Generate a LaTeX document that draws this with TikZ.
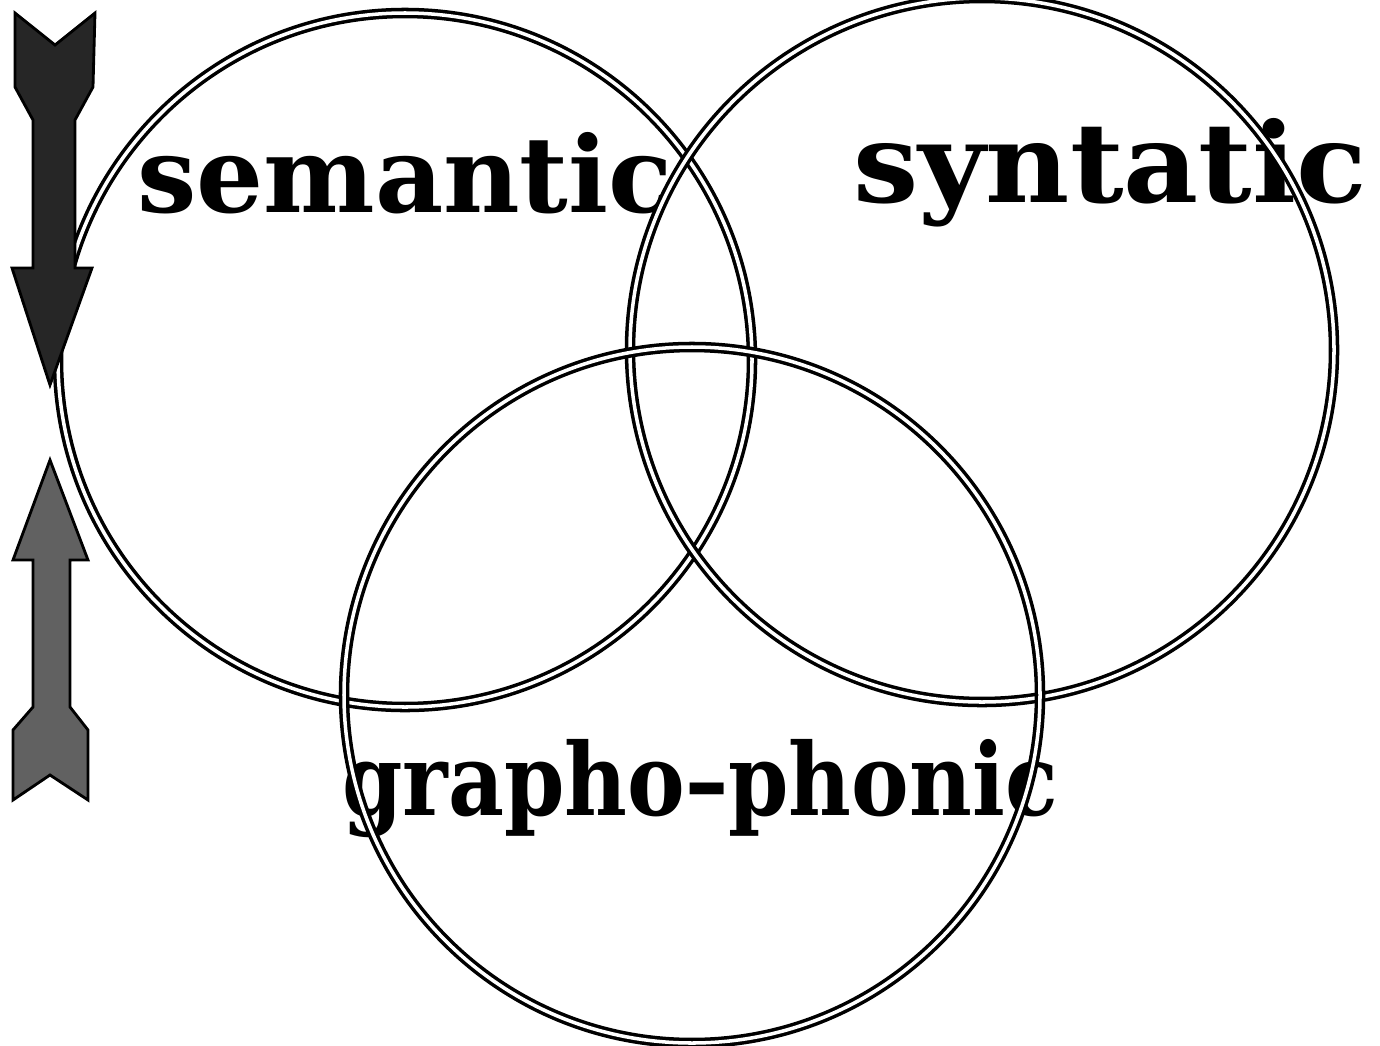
\documentclass[tikz,border=0pt]{standalone}
\usepackage{graphicx}
\usepackage{fontspec}
\setmainfont{DejaVu Serif}
\begin{document}
\begin{tikzpicture}[
    ring/.style={draw=black,line width=1.0pt,double=white,double distance=1pt},
    cue/.style={font=\bfseries\fontsize{30}{32}\selectfont,inner sep=0pt,anchor=base},
    downarrow/.style={draw=black,line width=0.8pt,fill=black!85,line join=miter},
    uparrow/.style={draw=black,line width=0.8pt,fill=black!62,line join=miter}]
%
\useasboundingbox (0,0) rectangle (13.8,-10.45);
%
% ============ Beschriftungen ============
\node[cue] (semantic) at (4.05,-2.12) {semantic};
\node[cue] (syntatic) at (11.10,-2.02) {\scalebox{1.1}[1.05]{syntatic}};
\node[cue] (grapho) at (7.00,-8.15) {\scalebox{0.82}[0.95]{grapho–phonic}};
%
% ============ Drei Kreise ============
\coordinate (csem) at (4.05,-3.60);
\coordinate (csyn) at (9.82,-3.50);
\coordinate (cgra) at (6.92,-6.95);
\draw[ring] (csem) circle (3.47);
\draw[ring] (csyn) circle (3.52);
\draw[ring] (cgra) circle (3.48);
%
% ============ Pfeil nach unten ============
\draw[downarrow] (0.15,-0.13) -- (0.55,-0.45) -- (0.95,-0.13) -- (0.93,-0.87)
  -- (0.75,-1.20) -- (0.75,-2.68) -- (0.92,-2.68) -- (0.50,-3.85)
  -- (0.12,-2.68) -- (0.33,-2.68) -- (0.33,-1.20) -- (0.15,-0.87) -- cycle;
%
% ============ Pfeil nach oben ============
\draw[uparrow] (0.50,-4.60) -- (0.88,-5.60) -- (0.70,-5.60) -- (0.70,-7.07)
  -- (0.88,-7.30) -- (0.88,-8.00) -- (0.50,-7.75) -- (0.13,-8.00)
  -- (0.13,-7.30) -- (0.33,-7.07) -- (0.33,-5.60) -- (0.13,-5.60) -- cycle;
%
\end{tikzpicture}
\end{document}
